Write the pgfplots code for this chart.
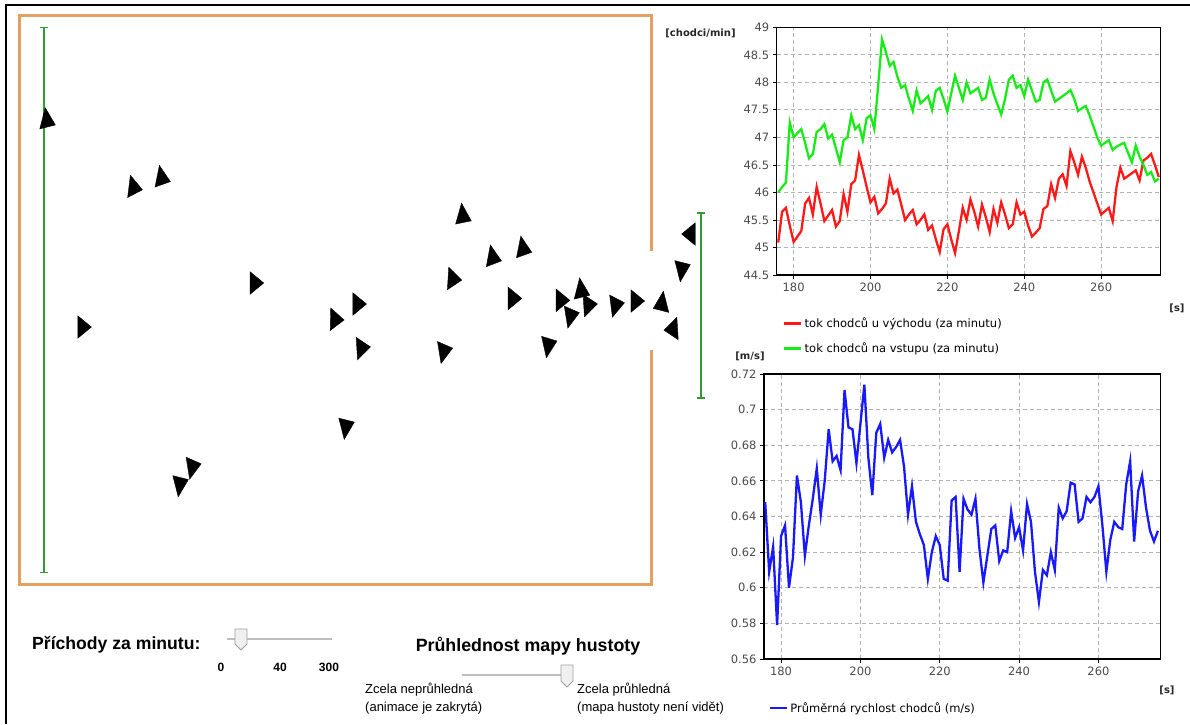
\documentclass[border=0pt]{standalone}
\usepackage{pgfplots}
\pgfplotsset{compat=1.18}
\usepackage{fontspec}
\setmainfont{DejaVu Sans}
\newfontfamily\chartfont{DejaVu Sans}
\newfontfamily\uifont{Liberation Sans}
\definecolor{wallc}{RGB}{228,160,96}
\definecolor{doorg}{RGB}{50,155,50}
\definecolor{lred}{RGB}{255,25,25}
\definecolor{lgreen}{RGB}{25,235,25}
\definecolor{lblue}{RGB}{25,25,255}
\definecolor{tickc}{RGB}{75,75,75}
\pgfplotstableread{
x y
176 46.00
177 46.10
178 46.18
179 47.27
180 47.00
181 47.08
182 47.15
183 46.90
184 46.62
185 46.70
186 47.10
187 47.15
188 47.24
189 46.98
190 47.05
191 46.80
192 46.55
193 46.95
194 47.00
195 47.40
196 47.15
197 47.22
198 46.95
199 47.35
200 47.40
201 47.15
202 47.95
203 48.78
204 48.55
205 48.30
206 48.37
207 48.10
208 47.90
209 47.95
210 47.70
211 47.48
212 47.85
213 47.62
214 47.68
215 47.75
216 47.50
217 47.85
218 47.90
219 47.70
220 47.47
221 47.80
222 48.12
223 47.90
224 47.68
225 48.00
226 47.80
227 47.85
228 47.90
229 47.68
230 47.72
231 48.05
232 47.80
233 47.60
234 47.42
235 47.70
236 48.05
237 48.12
238 47.90
239 47.95
240 47.75
241 48.05
242 47.85
243 47.65
244 47.68
245 48.00
246 48.05
247 47.85
248 47.65
249 47.70
250 47.75
251 47.80
252 47.86
253 47.70
254 47.48
255 47.53
256 47.57
257 47.40
258 47.20
259 47.00
260 46.85
261 46.90
262 46.95
263 46.77
264 46.83
265 46.87
266 46.90
267 46.72
268 46.55
269 46.85
270 46.65
271 46.50
272 46.32
273 46.37
274 46.20
275 46.25
}\greendata
\pgfplotstableread{
x y
176 45.09
177 45.65
178 45.72
179 45.40
180 45.10
181 45.20
182 45.30
183 45.80
184 45.90
185 45.60
186 46.10
187 45.80
188 45.48
189 45.58
190 45.68
191 45.38
192 45.48
193 45.97
194 45.65
195 46.15
196 46.22
197 46.68
198 46.40
199 46.10
200 45.82
201 45.92
202 45.62
203 45.70
204 45.80
205 46.25
206 45.98
207 46.05
208 45.78
209 45.50
210 45.60
211 45.68
212 45.42
213 45.50
214 45.60
215 45.32
216 45.40
217 45.15
218 44.92
219 45.33
220 45.42
221 45.15
222 44.90
223 45.30
224 45.72
225 45.50
226 45.87
227 45.65
228 45.38
229 45.78
230 45.55
231 45.28
232 45.70
233 45.45
234 45.82
235 45.60
236 45.35
237 45.42
238 45.82
239 45.60
240 45.65
241 45.40
242 45.20
243 45.27
244 45.35
245 45.70
246 45.75
247 46.15
248 45.90
249 46.25
250 46.33
251 46.12
252 46.75
253 46.55
254 46.32
255 46.65
256 46.45
257 46.20
258 46.00
259 45.80
260 45.60
261 45.66
262 45.72
263 45.48
264 46.10
265 46.45
266 46.25
267 46.30
268 46.35
269 46.40
270 46.22
271 46.58
272 46.63
273 46.70
274 46.50
275 46.28
}\reddata
\pgfplotstableread{
x y
176 0.648
177 0.609
178 0.623
179 0.579
180 0.629
181 0.635
182 0.600
183 0.617
184 0.663
185 0.648
186 0.618
187 0.635
188 0.650
189 0.667
190 0.641
191 0.660
192 0.689
193 0.671
194 0.674
195 0.666
196 0.711
197 0.690
198 0.689
199 0.670
200 0.692
201 0.714
202 0.673
203 0.652
204 0.687
205 0.692
206 0.673
207 0.683
208 0.676
209 0.679
210 0.683
211 0.668
212 0.641
213 0.657
214 0.637
215 0.630
216 0.624
217 0.605
218 0.620
219 0.629
220 0.624
221 0.605
222 0.604
223 0.649
224 0.651
225 0.609
226 0.650
227 0.644
228 0.641
229 0.650
230 0.622
231 0.603
232 0.618
233 0.633
234 0.635
235 0.615
236 0.621
237 0.620
238 0.643
239 0.628
240 0.634
241 0.621
242 0.647
243 0.637
244 0.609
245 0.592
246 0.610
247 0.607
248 0.620
249 0.610
250 0.645
251 0.639
252 0.643
253 0.659
254 0.658
255 0.637
256 0.639
257 0.651
258 0.648
259 0.651
260 0.657
261 0.635
262 0.609
263 0.627
264 0.637
265 0.634
266 0.633
267 0.658
268 0.671
269 0.626
270 0.654
271 0.663
272 0.645
273 0.632
274 0.626
275 0.632
}\bluedata
\pgfplotstableread{
x y a
46.8 120.5 10
133.5 187.5 20
161.6 178 14
82.3 327 -90
254.6 283 -90
335 319.5 -92
357.4 304 -90
361.4 348 155
462.8 216 8
492.7 257.5 15
523 248.7 14
452.6 279 25
512.7 298.4 -90
443.7 351 163
345.8 426.5 170
179.8 484 170
192.3 466.7 163
548.3 345 168
560.7 300.3 -90
581.2 290.7 10
570.5 315.6 163
588.3 305 -85
615.5 305 -80
635.5 301 -90
661.8 304 110
681.8 269 170
673 329 95
690.7 234 90
}\agents
\newcommand\cf{\chartfont\fontsize{11.5}{13}\selectfont}
\pgfplotsset{chartstyle/.style={
  scale only axis,
  axis line style={black, line width=1.2pt},
  grid=major,
  grid style={dash pattern=on 4pt off 3pt, gray!60, line width=0.8pt},
  tick align=outside, major tick length=4pt,
  tick style={black, line width=0.8pt},
  xtick pos=bottom, ytick pos=left,
  ticklabel style={font=\cf, text=tickc},
  /pgf/number format/assume math mode=true,
  legend style={draw=none, fill=none, font=\cf, inner sep=0pt, row sep=9.5pt, cells={anchor=west}},
  legend image code/.code={\draw[##1, line width=2.5pt] (0pt,0pt) -- (17pt,0pt);},
}}
\begin{document}
\begin{tikzpicture}
\path[use as bounding box] (0pt,0pt) rectangle (1190pt,-724pt);
\begin{axis}[at={(0pt,0pt)}, anchor=north west, scale only axis,
  width=1190pt, height=724pt, xmin=0, xmax=1190, ymin=0, ymax=724,
  y dir=reverse, hide axis, clip=false]
% outer frame
\addplot[black, line width=2pt] coordinates {(6,724) (6,5) (1190,5)};
% room walls
\addplot[wallc, line width=3pt] coordinates {(651,250.6) (651,15.3) (19.6,15.3) (19.6,584.5) (651,584.5) (651,350)};
% entrance / exit lines
\addplot[doorg, line width=2pt] coordinates {(44,27.5) (44,572.7)};
\addplot[doorg, line width=1.2pt] coordinates {(40,27.5) (48,27.5)};
\addplot[doorg, line width=1.2pt] coordinates {(40,572.7) (48,572.7)};
% agents
\addplot[scatter, only marks, mark=triangle*, mark size=13pt,
  scatter/use mapped color={draw=black, fill=black},
  visualization depends on={\thisrow{a}\as\ang},
  scatter/@pre marker code/.append code={\pgftransformxscale{0.7}\pgftransformrotate{\ang}}]
  table[x=x, y=y] {\agents};
\addplot[doorg, line width=2pt] coordinates {(701,213) (701,398)};
\addplot[doorg, line width=1.2pt] coordinates {(697,213) (705,213)};
\addplot[doorg, line width=1.2pt] coordinates {(697,398) (705,398)};
% sliders
\addplot[gray!50, line width=1.5pt] coordinates {(227,639) (332,639)};
\filldraw[fill=gray!12, draw=gray!75, line width=0.8pt] (235,629) -- (247,629) -- (247,644) -- (241,650) -- (235,644) -- cycle;
\addplot[gray!50, line width=1.5pt] coordinates {(462,675) (567,675)};
\filldraw[fill=gray!12, draw=gray!75, line width=0.8pt] (561,665) -- (573,665) -- (573,681) -- (567,687) -- (561,681) -- cycle;
\node[anchor=west, font=\uifont\bfseries\fontsize{17.6}{19}\selectfont, inner sep=0pt] at (32,645) {Příchody za minutu:};
\node[font=\uifont\bfseries\fontsize{12}{14}\selectfont] at (221,667) {0};
\node[font=\uifont\bfseries\fontsize{12}{14}\selectfont] at (280,667) {40};
\node[font=\uifont\bfseries\fontsize{12}{14}\selectfont] at (329,667) {300};
\node[font=\uifont\bfseries\fontsize{17.8}{19}\selectfont, inner sep=0pt] at (528,646) {Průhlednost mapy hustoty};
\node[anchor=west, inner sep=0pt, font=\uifont\fontsize{13}{15}\selectfont] at (365,690) {Zcela neprůhledná};
\node[anchor=west, inner sep=0pt, font=\uifont\fontsize{13}{15}\selectfont] at (365,708) {(animace je zakrytá)};
\node[anchor=west, inner sep=0pt, font=\uifont\fontsize{13}{15}\selectfont] at (577,690) {Zcela průhledná};
\node[anchor=west, inner sep=0pt, font=\uifont\fontsize{13}{15}\selectfont] at (577,708) {(mapa hustoty není vidět)};
% unit labels
\node[font=\chartfont\bfseries\fontsize{10}{12}\selectfont, text=black!85] at (700.5,33) {[chodci/min]};
\node[font=\chartfont\bfseries\fontsize{10}{12}\selectfont, text=black!85] at (1177,308) {[s]};
\node[font=\chartfont\bfseries\fontsize{10}{12}\selectfont, text=black!85] at (750,356) {[m/s]};
\node[font=\chartfont\bfseries\fontsize{10}{12}\selectfont, text=black!85] at (1167,690) {[s]};
\end{axis}
% top chart
\begin{axis}[chartstyle, at={(776.7pt,-275pt)}, anchor=south west,
  width=384pt, height=247.7pt,
  xmin=175.6, xmax=275.5, ymin=44.5, ymax=49,
  xtick={180,200,220,240,260},
  ytick={44.5,45,45.5,46,46.5,47,47.5,48,48.5,49},
  legend style={at={(0.0164,-0.165)}, anchor=north west}]
\addplot[lred, line width=2.3pt] table[x=x, y=y] {\reddata};
\addlegendentry{tok chodců u východu (za minutu)}
\addplot[lgreen, line width=2.3pt] table[x=x, y=y] {\greendata};
\addlegendentry{tok chodců na vstupu (za minutu)}
\end{axis}
% bottom chart
\begin{axis}[chartstyle, at={(764pt,-659pt)}, anchor=south west,
  width=396.3pt, height=285pt,
  xmin=175.7, xmax=275.6, ymin=0.56, ymax=0.72,
  xtick={180,200,220,240,260},
  ytick={0.56,0.58,0.6,0.62,0.64,0.66,0.68,0.7,0.72},
  legend style={at={(0.012,-0.144)}, anchor=north west}]
\addplot[lblue, line width=2.3pt] table[x=x, y=y] {\bluedata};
\addlegendentry{Průměrná rychlost chodců (m/s)}
\end{axis}
\end{tikzpicture}
\end{document}
